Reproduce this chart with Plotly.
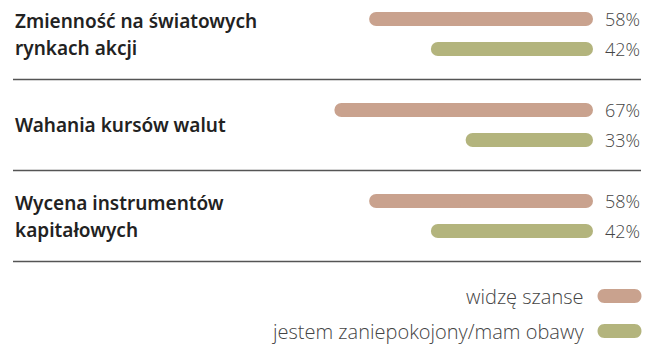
import plotly.graph_objects as go

# Survey data
categories = [
    "Zmienność na światowych<br>rynkach akcji",
    "Wahania kursów walut",
    "Wycena instrumentów<br>kapitałowych",
]
szanse = [58, 67, 58]   # widzę szanse
obawy = [42, 33, 42]    # jestem zaniepokojony/mam obawy
series_names = ["widzę szanse", "jestem zaniepokojony/mam obawy"]

W, H = 656, 345
ROSE = "#C9A28E"
OLIVE = "#B3B47D"
LABEL_FONT = "Noto Sans"
LIGHT_FONT = "Open Sans"
TEXT_GREY = "#444444"

# group layout in y units (one unit per category group, 91 px tall)
unit_px = 91
first_center_px = 34
pair_off = 15 / unit_px
bar_px = 14
bar_w = bar_px / unit_px
line_off = 13.5 / unit_px
y_top = -first_center_px / unit_px
y_bot = (H - first_center_px) / unit_px

# x: bars grow leftwards from the right edge of the plot area
x_right_px = 593
px_per_pct = 3.86
x_max = x_right_px / px_per_pct

# pill-shaped bars: each bar is drawn as two overlapping halves, one growing
# towards the value and one growing back to zero, so both ends get rounded
split_a, split_b = 0.4, 0.6

idx = list(range(len(categories)))
fig = go.Figure()
for vals, off, col, name in [(szanse, -pair_off, ROSE, series_names[0]),
                             (obawy, pair_off, OLIVE, series_names[1])]:
    ys = [i + off for i in idx]
    fig.add_trace(go.Bar(
        x=[v * (1 - split_a) for v in vals], base=[v * split_a for v in vals],
        y=ys, orientation="h", width=bar_w,
        marker=dict(color=col, cornerradius="50%", line=dict(width=0)),
        name=name, showlegend=False, customdata=vals,
        hovertemplate="%{customdata}%<extra>" + name + "</extra>",
    ))
    fig.add_trace(go.Bar(
        x=[-v * split_b for v in vals], base=[v * split_b for v in vals],
        y=ys, orientation="h", width=bar_w,
        marker=dict(color=col, cornerradius="50%", line=dict(width=0)),
        showlegend=False, hoverinfo="skip",
    ))

annotations = []
shapes = []
for i, (cat, a, b) in enumerate(zip(categories, szanse, obawy)):
    lines = cat.split("<br>")
    n = len(lines)
    for k, line in enumerate(lines):
        annotations.append(dict(
            x=13 / W, xref="paper", xanchor="left",
            y=i + (k - (n - 1) / 2) * 2 * line_off, yref="y", yanchor="middle",
            text=line, showarrow=False, align="left",
            font=dict(family=LABEL_FONT, size=19, color="#222222", weight=600),
        ))
    for v, off in [(a, -pair_off), (b, pair_off)]:
        annotations.append(dict(
            x=642 / W, xref="paper", xanchor="right", y=i + off, yref="y",
            yanchor="middle", text=f"{v}%", showarrow=False,
            font=dict(family=LIGHT_FONT, size=18, color=TEXT_GREY, weight=300),
        ))
    shapes.append(dict(
        type="line", xref="paper", yref="y", x0=13 / W, x1=641 / W,
        y0=i + 0.5, y1=i + 0.5, line=dict(color="#555555", width=1.3),
    ))

# legend: text + rounded pill swatch
pill = "M -15,-7 L 15,-7 C 24.3,-7 24.3,7 15,7 L -15,7 C -24.3,7 -24.3,-7 -15,-7 Z"
for k, (name, col) in enumerate(zip(series_names, [ROSE, OLIVE])):
    yc = 1 - (296 + 35 * k) / H
    annotations.append(dict(
        x=586 / W, xref="paper", xanchor="right", y=yc, yref="paper",
        yanchor="middle", text=name, showarrow=False,
        font=dict(family=LIGHT_FONT, size=20, color=TEXT_GREY, weight=300),
    ))
    shapes.append(dict(
        type="path", xref="paper", yref="paper", xsizemode="pixel",
        ysizemode="pixel", xanchor=619.5 / W, yanchor=yc, path=pill,
        fillcolor=col, line=dict(width=0),
    ))

fig.update_layout(
    width=W, height=H, margin=dict(l=0, r=0, t=0, b=0),
    paper_bgcolor="white", plot_bgcolor="white",
    xaxis=dict(range=[x_max, 0], domain=[0, x_right_px / W], visible=False,
               fixedrange=True),
    yaxis=dict(range=[y_bot, y_top], domain=[0, 1], visible=False,
               fixedrange=True),
    annotations=annotations, shapes=shapes, barmode="overlay",
)

fig.write_html("out.html")
